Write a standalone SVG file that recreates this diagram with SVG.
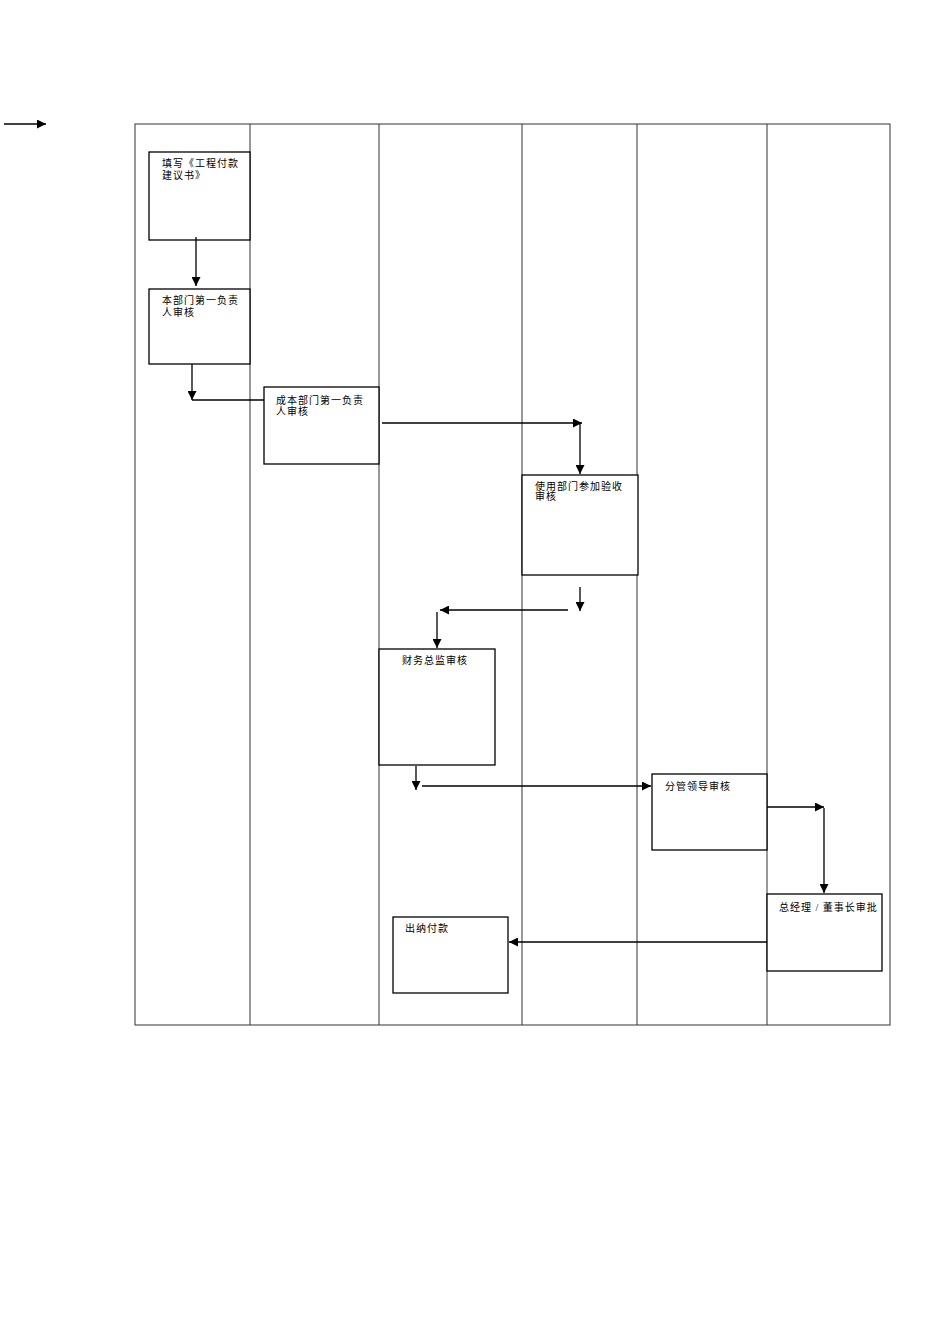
<svg xmlns="http://www.w3.org/2000/svg" width="950" height="1344" viewBox="0 0 950 1344">
<style>
.lane{fill:none;stroke:#333;stroke-width:1}
.box{fill:#fff;stroke:#000;stroke-width:1.3}
.t{font-family:"Liberation Serif","Noto Sans CJK SC",serif;font-size:10px;fill:#000;letter-spacing:1px}
.c{fill:none;stroke:#000;stroke-width:1.3}
</style>
<defs><marker id="b" viewBox="0 0 10 10" refX="10" refY="5" markerWidth="9" markerHeight="9" markerUnits="userSpaceOnUse" orient="auto"><path d="M0,0L10,5L0,10z" fill="#000"/></marker></defs>
<g id="lanes">
<rect class="lane" x="135" y="124" width="755" height="901"/>
<line class="lane" x1="250" y1="124" x2="250" y2="1025"/>
<line class="lane" x1="379" y1="124" x2="379" y2="1025"/>
<line class="lane" x1="522" y1="124" x2="522" y2="1025"/>
<line class="lane" x1="637" y1="124" x2="637" y2="1025"/>
<line class="lane" x1="767" y1="124" x2="767" y2="1025"/>
</g>
<g id="n1"><rect class="box" x="149" y="152" width="101" height="88"/><text class="t" x="162" y="167">填写《工程付款</text><text class="t" x="162" y="179">建议书》</text></g>
<g id="n2"><rect class="box" x="149" y="289" width="101" height="75"/><text class="t" x="162" y="304">本部门第一负责</text><text class="t" x="162" y="316">人审核</text></g>
<g id="n3"><rect class="box" x="264" y="387" width="115" height="77"/><text class="t" x="276" y="404">成本部门第一负责</text><text class="t" x="276" y="415">人审核</text></g>
<g id="n4"><rect class="box" x="522" y="475" width="116" height="100"/><text class="t" x="535" y="490">使用部门参加验收</text><text class="t" x="535" y="500">审核</text></g>
<g id="n5"><rect class="box" x="379" y="649" width="116" height="116"/><text class="t" x="402" y="664">财务总监审核</text></g>
<g id="n6"><rect class="box" x="652" y="774" width="115" height="76"/><text class="t" x="665" y="790">分管领导审核</text></g>
<g id="n7"><rect class="box" x="767" y="894" width="115" height="77"/><text class="t" x="779" y="911" letter-spacing="0.5">总经理 / 董事长审批</text></g>
<g id="n8"><rect class="box" x="393" y="917" width="115" height="76"/><text class="t" x="405" y="932">出纳付款</text></g>
<g id="connectors">
<line class="c" x1="4" y1="124" x2="46" y2="124" marker-end="url(#b)"/>
<line class="c" x1="196" y1="237" x2="196" y2="286" marker-end="url(#b)"/>
<line class="c" x1="192" y1="364" x2="192" y2="400" marker-end="url(#b)"/>
<line class="c" x1="192" y1="400" x2="264" y2="400"/>
<line class="c" x1="382" y1="423" x2="582" y2="423" marker-end="url(#b)"/>
<line class="c" x1="580" y1="423" x2="580" y2="474" marker-end="url(#b)"/>
<line class="c" x1="580" y1="587" x2="580" y2="611" marker-end="url(#b)"/>
<line class="c" x1="568" y1="610" x2="440" y2="610" marker-end="url(#b)"/>
<line class="c" x1="437" y1="612" x2="437" y2="648" marker-end="url(#b)"/>
<line class="c" x1="416" y1="766" x2="416" y2="790" marker-end="url(#b)"/>
<line class="c" x1="422" y1="786" x2="651" y2="786" marker-end="url(#b)"/>
<line class="c" x1="767" y1="807" x2="824" y2="807" marker-end="url(#b)"/>
<line class="c" x1="824" y1="808" x2="824" y2="893" marker-end="url(#b)"/>
<line class="c" x1="767" y1="942" x2="509" y2="942" marker-end="url(#b)"/>
</g>
</svg>
